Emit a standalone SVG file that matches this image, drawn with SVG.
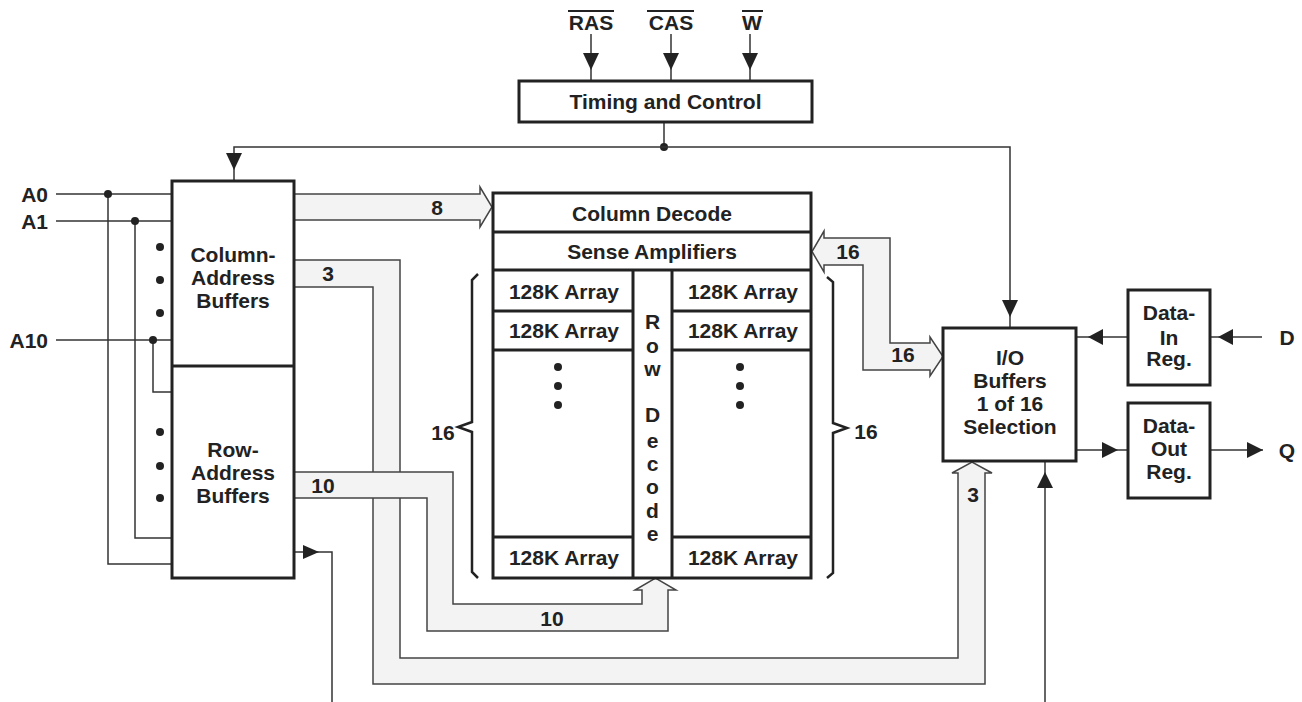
<svg xmlns="http://www.w3.org/2000/svg" width="1302" height="702" viewBox="0 0 1302 702">
<style>
  text { font-family: "Liberation Sans", Arial, sans-serif; font-weight: bold; font-size: 21px; fill: #222; text-anchor: middle; }
  .l { text-anchor: end; }
  .box { fill: #fff; stroke: #222; stroke-width: 3; }
  .div { stroke: #222; stroke-width: 3; fill: none; }
  .wire { stroke: #333; stroke-width: 1.5; fill: none; }
  .bus { fill: #f3f3f3; stroke: #444; stroke-width: 1.5; stroke-linejoin: miter; }
  .brace { stroke: #222; stroke-width: 2.5; fill: none; }
  .ah { fill: #222; stroke: none; }
  .dot { fill: #222; }
  .ovl { stroke: #222; stroke-width: 2; }
</style>

<!-- connectors -->
<g id="connectors">
  <!-- control inputs -->
  <line class="wire" x1="591" y1="34" x2="591" y2="81"/>
  <polygon class="ah" points="583,53 599,53 591,70"/>
  <line class="wire" x1="671" y1="34" x2="671" y2="81"/>
  <polygon class="ah" points="663,53 679,53 671,70"/>
  <line class="wire" x1="750" y1="34" x2="750" y2="81"/>
  <polygon class="ah" points="742,53 758,53 750,70"/>
  <!-- timing distribution -->
  <line class="wire" x1="664" y1="122" x2="664" y2="147"/>
  <circle class="dot" cx="664" cy="147" r="4"/>
  <polyline class="wire" points="234,181 234,147 1010,147 1010,328"/>
  <polygon class="ah" points="226,153 242,153 234,170"/>
  <polygon class="ah" points="1002,300 1018,300 1010,317"/>
  <!-- address inputs -->
  <line class="wire" x1="56" y1="194" x2="172" y2="194"/>
  <line class="wire" x1="56" y1="221" x2="172" y2="221"/>
  <line class="wire" x1="56" y1="340" x2="172" y2="340"/>
  <polyline class="wire" points="108,194 108,564 172,564"/>
  <polyline class="wire" points="135,221 135,538 172,538"/>
  <polyline class="wire" points="153,340 153,392 172,392"/>
  <circle class="dot" cx="108" cy="194" r="4"/>
  <circle class="dot" cx="135" cy="221" r="4"/>
  <circle class="dot" cx="153" cy="340" r="4"/>
  <!-- row buffer output -->
  <polyline class="wire" points="294,552 332,552 332,702"/>
  <polygon class="ah" points="303,545 303,559 319,552"/>
  <!-- data in / out -->
  <line class="wire" x1="1076" y1="337" x2="1128" y2="337"/>
  <polygon class="ah" points="1103,329 1103,345 1088,337"/>
  <line class="wire" x1="1210" y1="337" x2="1262" y2="337"/>
  <polygon class="ah" points="1233,329 1233,345 1218,337"/>
  <line class="wire" x1="1076" y1="450" x2="1128" y2="450"/>
  <polygon class="ah" points="1102,442 1102,458 1118,450"/>
  <line class="wire" x1="1210" y1="450" x2="1263" y2="450"/>
  <polygon class="ah" points="1247,442 1247,458 1263,450"/>
  <!-- bottom input to I/O -->
  <line class="wire" x1="1045" y1="702" x2="1045" y2="461"/>
  <polygon class="ah" points="1037,488 1053,488 1045,472"/>
  <!-- buses -->
  <polygon class="bus" points="294,194 480,194 480,187 492,207 480,227 480,220 294,220"/>
  <polygon class="bus" points="294,260 400,260 400,658 958,658 958,473 952,473 972,462 992,473 985,473 985,684 373,684 373,287 294,287"/>
  <polygon class="bus" points="294,472 453,472 453,604 642,604 642,590 635,590 655.5,578 676,590 668,590 668,631 427,631 427,498 294,498"/>
  <polygon class="bus" points="824,238 890,238 890,343 930,343 930,337 943,356.5 930,376 930,370 863,370 863,265 824,265 824,272 812,251.5 824,231"/>
  <text x="437" y="215">8</text>
  <text x="328" y="281">3</text>
  <text x="323" y="493">10</text>
  <text x="552" y="626">10</text>
  <text x="973" y="502">3</text>
  <text x="848" y="259">16</text>
  <text x="903" y="362">16</text>
</g>

<!-- control labels -->
<g id="ctrl-labels">
  <text x="591" y="30">RAS</text>
  <line class="ovl" x1="568" y1="11" x2="614" y2="11"/>
  <text x="671" y="30">CAS</text>
  <line class="ovl" x1="647" y1="11" x2="694" y2="11"/>
  <text x="752" y="30">W</text>
  <line class="ovl" x1="742" y1="11" x2="763" y2="11"/>
</g>

<g id="addr-labels">
  <text class="l" x="48" y="201.5">A0</text>
  <text class="l" x="48" y="228.5">A1</text>
  <text class="l" x="48" y="347.5">A10</text>
</g>

<g id="timing">
  <rect class="box" x="519" y="81" width="293" height="41"/>
  <text x="665.5" y="109">Timing and Control</text>
</g>

<g id="address-buffers">
  <rect class="box" x="172" y="181" width="122" height="397"/>
  <line class="div" x1="172" y1="366" x2="294" y2="366"/>
  <text x="233" y="262">Column-</text>
  <text x="233" y="285">Address</text>
  <text x="233" y="308">Buffers</text>
  <text x="233" y="457">Row-</text>
  <text x="233" y="480">Address</text>
  <text x="233" y="503">Buffers</text>
  <circle class="dot" cx="160" cy="247" r="4"/>
  <circle class="dot" cx="160" cy="280" r="4"/>
  <circle class="dot" cx="160" cy="313" r="4"/>
  <circle class="dot" cx="160" cy="432" r="4"/>
  <circle class="dot" cx="160" cy="466" r="4"/>
  <circle class="dot" cx="160" cy="498" r="4"/>
</g>

<g id="memory-array">
  <rect class="box" x="493" y="193" width="318" height="385"/>
  <line class="div" x1="493" y1="232" x2="811" y2="232"/>
  <line class="div" x1="493" y1="270" x2="811" y2="270"/>
  <line class="div" x1="633" y1="270" x2="633" y2="578"/>
  <line class="div" x1="672" y1="270" x2="672" y2="578"/>
  <line class="div" x1="493" y1="311" x2="633" y2="311"/>
  <line class="div" x1="493" y1="350" x2="633" y2="350"/>
  <line class="div" x1="493" y1="537" x2="633" y2="537"/>
  <line class="div" x1="672" y1="311" x2="811" y2="311"/>
  <line class="div" x1="672" y1="350" x2="811" y2="350"/>
  <line class="div" x1="672" y1="537" x2="811" y2="537"/>
  <text x="652" y="220.5">Column Decode</text>
  <text x="652" y="258.5">Sense Amplifiers</text>
  <text x="564" y="299">128K Array</text>
  <text x="564" y="338">128K Array</text>
  <text x="564" y="565">128K Array</text>
  <text x="743" y="299">128K Array</text>
  <text x="743" y="338">128K Array</text>
  <text x="743" y="565">128K Array</text>
  <circle class="dot" cx="558" cy="367" r="4"/>
  <circle class="dot" cx="558" cy="386" r="4"/>
  <circle class="dot" cx="558" cy="405" r="4"/>
  <circle class="dot" cx="740" cy="367" r="4"/>
  <circle class="dot" cx="740" cy="386" r="4"/>
  <circle class="dot" cx="740" cy="405" r="4"/>
  <text x="652.5" y="328.5">R</text>
  <text x="652.5" y="352.5">o</text>
  <text x="652.5" y="375.5">w</text>
  <text x="652.5" y="421.5">D</text>
  <text x="652.5" y="447.5">e</text>
  <text x="652.5" y="471">c</text>
  <text x="652.5" y="494">o</text>
  <text x="652.5" y="517.5">d</text>
  <text x="652.5" y="540.5">e</text>
  <path class="brace" d="M478,274 L472,280 L472,422 L458,427 L472,432 L472,572 L478,578"/>
  <path class="brace" d="M827,277 L833,282 L833,423 L847,428 L833,433 L833,573 L827,578"/>
  <text x="443" y="439.5">16</text>
  <text x="866" y="438.5">16</text>
</g>

<g id="io-buffers">
  <rect class="box" x="943" y="328" width="133" height="133"/>
  <text x="1010" y="364.5">I/O</text>
  <text x="1010" y="387.5">Buffers</text>
  <text x="1010" y="410.5">1 of 16</text>
  <text x="1010" y="434">Selection</text>
</g>

<g id="data-in">
  <rect class="box" x="1128" y="290" width="82" height="95"/>
  <text x="1169" y="319.5">Data-</text>
  <text x="1169" y="344.5">In</text>
  <text x="1169" y="365.5">Reg.</text>
</g>

<g id="data-out">
  <rect class="box" x="1128" y="403" width="82" height="95"/>
  <text x="1169" y="432.5">Data-</text>
  <text x="1169" y="455.5">Out</text>
  <text x="1169" y="478.5">Reg.</text>
</g>

<g id="io-labels">
  <text x="1287" y="344.5">D</text>
  <text x="1287" y="457.5">Q</text>
</g>
</svg>
